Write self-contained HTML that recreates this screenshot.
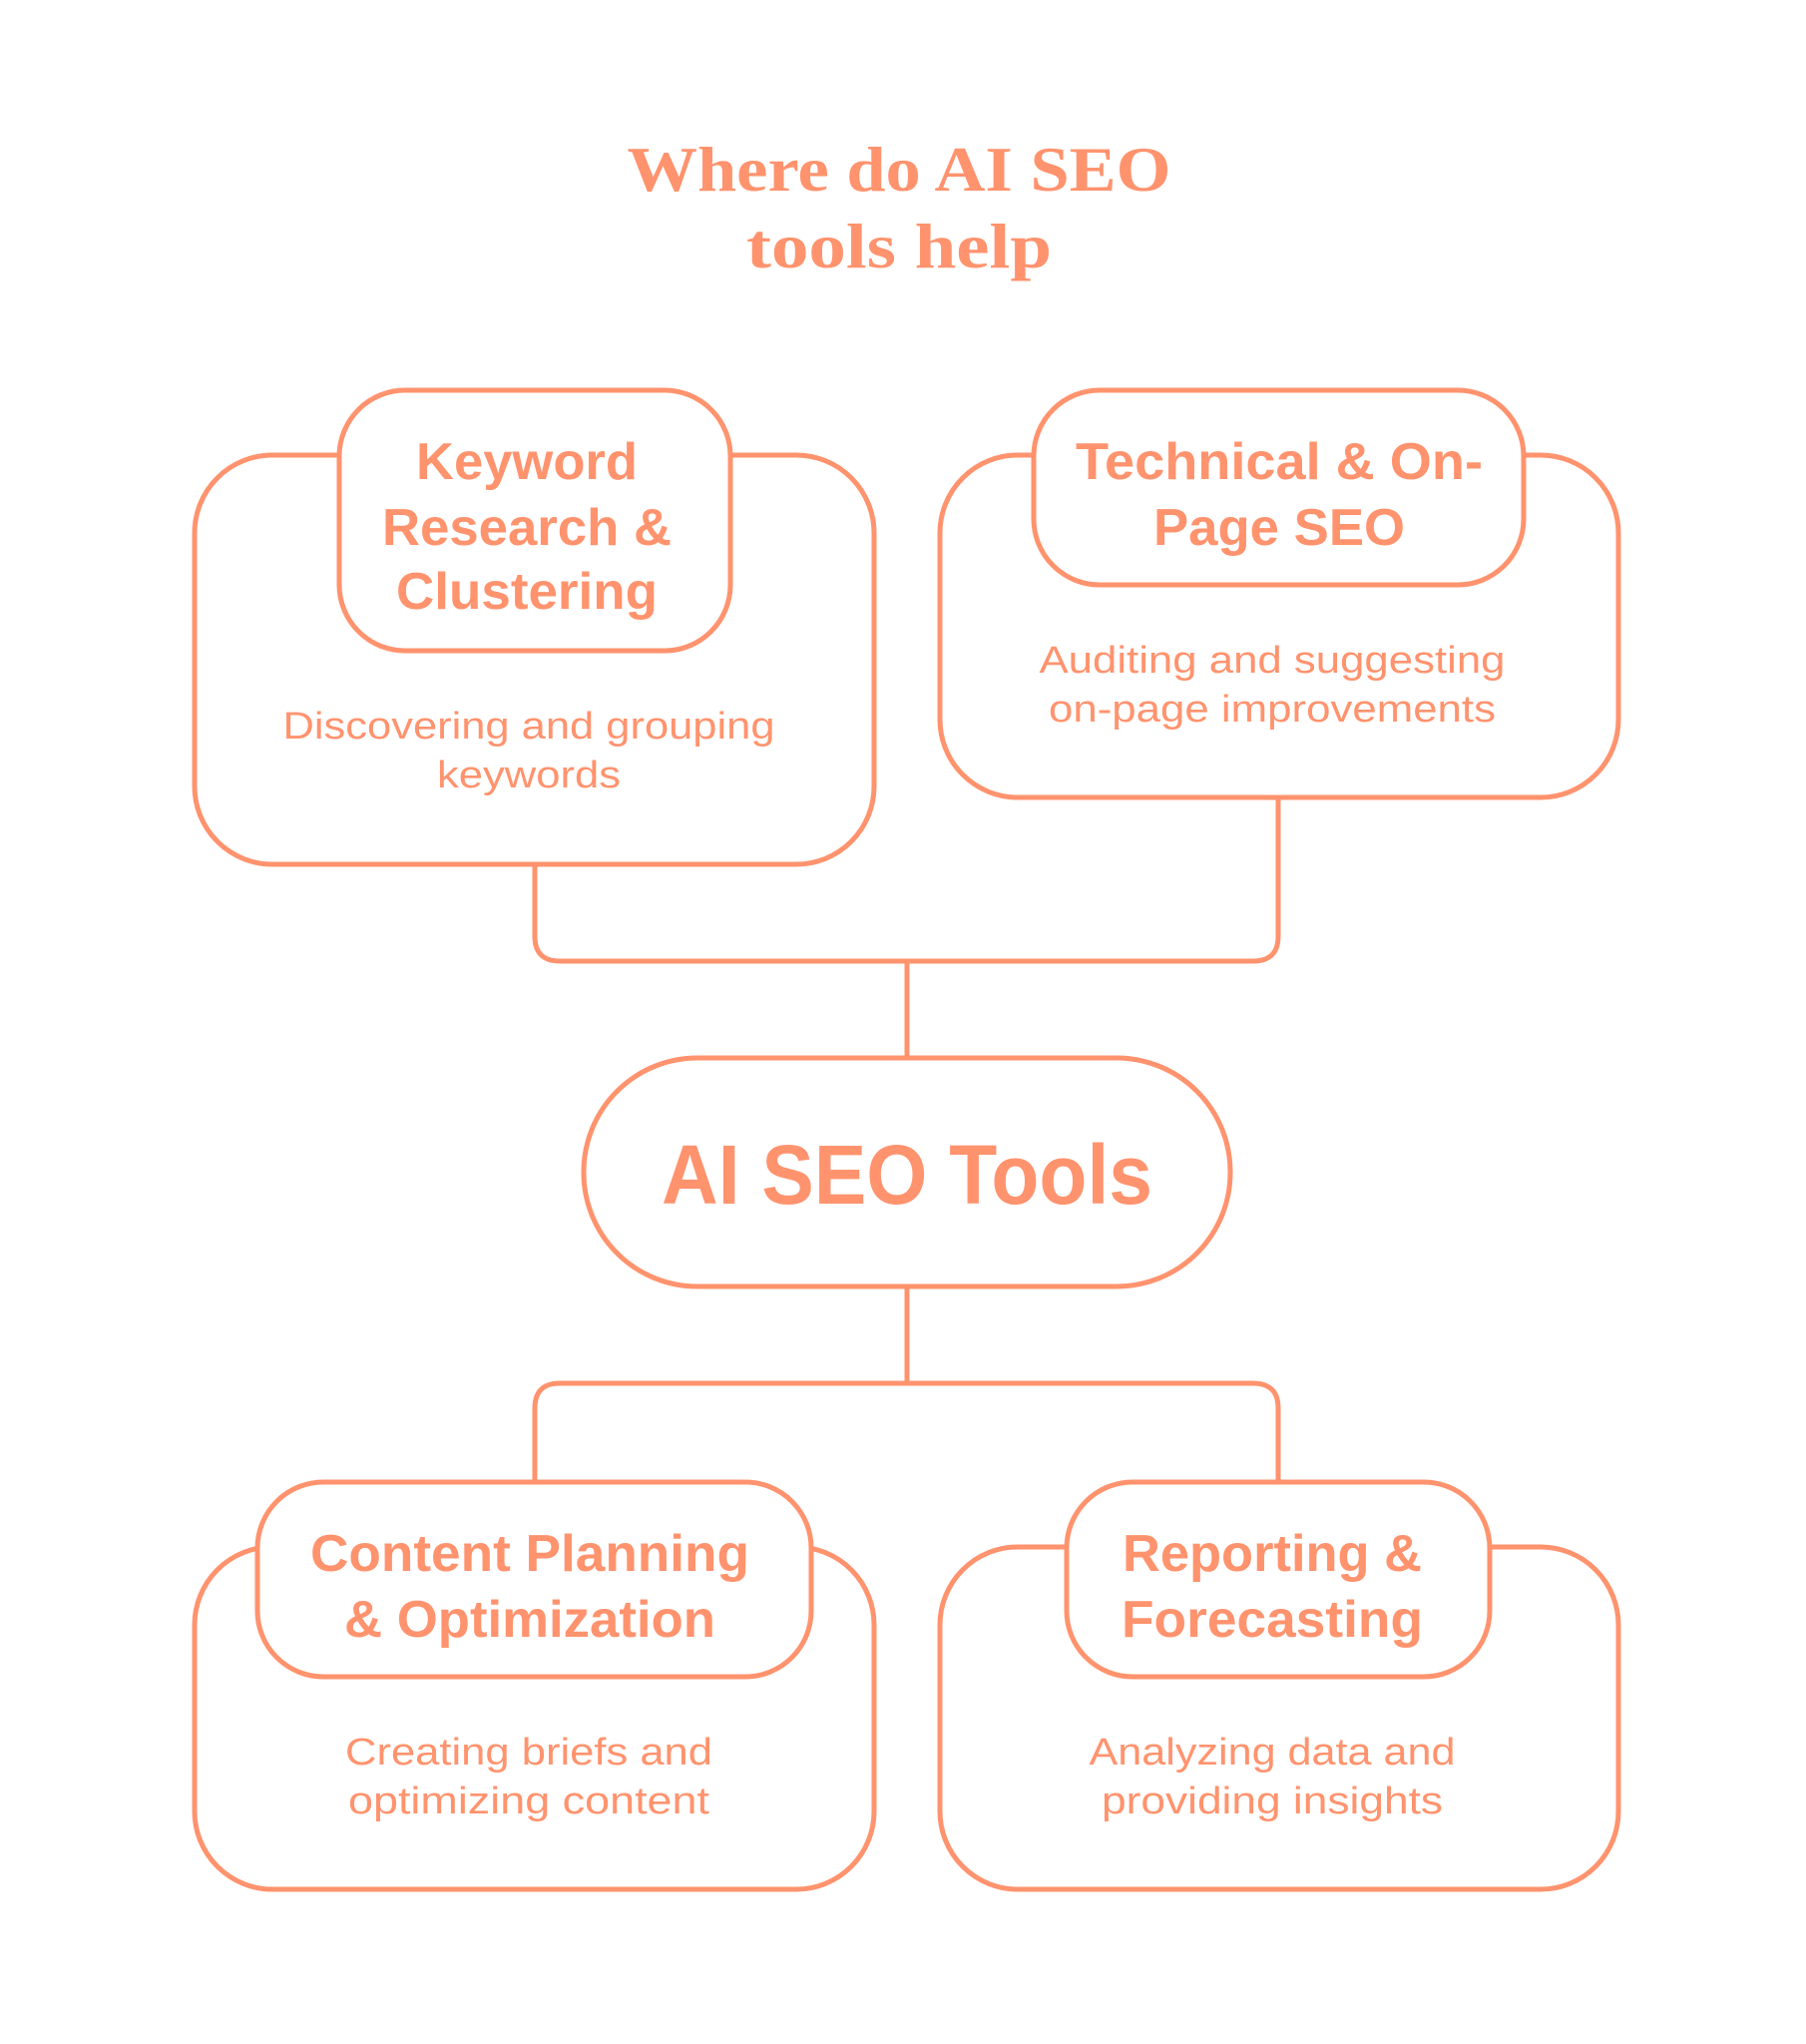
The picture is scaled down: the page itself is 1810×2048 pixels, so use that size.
<!DOCTYPE html>
<html><head><meta charset="utf-8"><style>
html,body{margin:0;padding:0;background:#fff;}
svg{display:block}
.h{font-family:"Liberation Sans",sans-serif;font-weight:bold;fill:#FF936E;text-anchor:middle}
.d{font-family:"Liberation Sans",sans-serif;fill:#FF936E;text-anchor:middle}
</style></head><body>
<svg width="1810" height="2048" viewBox="0 0 1810 2048" xmlns="http://www.w3.org/2000/svg">
<g fill="none" stroke="#FF936E" stroke-width="5">
<path d="M536 866 V938 Q536 963 561 963 H1256 Q1281 963 1281 938 V799"/>
<path d="M909 963 V1060"/>
<path d="M909 1289 V1386"/>
<path d="M536 1485 V1411 Q536 1386 561 1386 H1256 Q1281 1386 1281 1411 V1485"/>
<rect x="195" y="456" width="681" height="410" rx="78" fill="#fff"/>
<rect x="340" y="391" width="392" height="261" rx="66" fill="#fff"/>
<rect x="942" y="456" width="680" height="343" rx="78" fill="#fff"/>
<rect x="1036" y="391" width="491" height="195" rx="66" fill="#fff"/>
<rect x="585" y="1060" width="648" height="229" rx="114" fill="#fff"/>
<rect x="195" y="1550" width="681" height="343" rx="78" fill="#fff"/>
<rect x="258" y="1485" width="555" height="195" rx="66" fill="#fff"/>
<rect x="942" y="1550" width="680" height="343" rx="78" fill="#fff"/>
<rect x="1069" y="1485" width="424" height="195" rx="66" fill="#fff"/>
</g>
<g font-family="Liberation Serif, serif" font-weight="bold" fill="#FF936E" text-anchor="middle" font-size="64">
<text x="901" y="191" textLength="545" lengthAdjust="spacingAndGlyphs">Where do AI SEO</text>
<text x="901" y="268" textLength="306" lengthAdjust="spacingAndGlyphs">tools help</text>
</g>
<g class="h" font-size="52">
<text class="h" x="528" y="480" textLength="222" lengthAdjust="spacingAndGlyphs">Keyword</text>
<text class="h" x="528" y="546" textLength="290" lengthAdjust="spacingAndGlyphs">Research &amp;</text>
<text class="h" x="528" y="610" textLength="262" lengthAdjust="spacingAndGlyphs">Clustering</text>
<text class="h" x="1282" y="480" textLength="408" lengthAdjust="spacingAndGlyphs">Technical &amp; On-</text>
<text class="h" x="1282" y="546" textLength="252" lengthAdjust="spacingAndGlyphs">Page SEO</text>
<text class="h" x="531" y="1574" textLength="440" lengthAdjust="spacingAndGlyphs">Content Planning</text>
<text class="h" x="531" y="1640" textLength="372" lengthAdjust="spacingAndGlyphs">&amp; Optimization</text>
<text class="h" x="1275" y="1574" textLength="300" lengthAdjust="spacingAndGlyphs">Reporting &amp;</text>
<text class="h" x="1275" y="1640" textLength="302" lengthAdjust="spacingAndGlyphs">Forecasting</text>
</g>
<text class="h" x="909" y="1206" font-size="84" textLength="492" lengthAdjust="spacingAndGlyphs">AI SEO Tools</text>
<g font-size="38">
<text class="d" x="530" y="740" textLength="493" lengthAdjust="spacingAndGlyphs">Discovering and grouping</text>
<text class="d" x="530" y="789" textLength="184" lengthAdjust="spacingAndGlyphs">keywords</text>
<text class="d" x="1275" y="674" textLength="467" lengthAdjust="spacingAndGlyphs">Auditing and suggesting</text>
<text class="d" x="1275" y="723" textLength="448" lengthAdjust="spacingAndGlyphs">on-page improvements</text>
<text class="d" x="530" y="1768" textLength="368" lengthAdjust="spacingAndGlyphs">Creating briefs and</text>
<text class="d" x="530" y="1817" textLength="362" lengthAdjust="spacingAndGlyphs">optimizing content</text>
<text class="d" x="1275" y="1768" textLength="367" lengthAdjust="spacingAndGlyphs">Analyzing data and</text>
<text class="d" x="1275" y="1817" textLength="342" lengthAdjust="spacingAndGlyphs">providing insights</text>
</g>
</svg>
</body></html>
